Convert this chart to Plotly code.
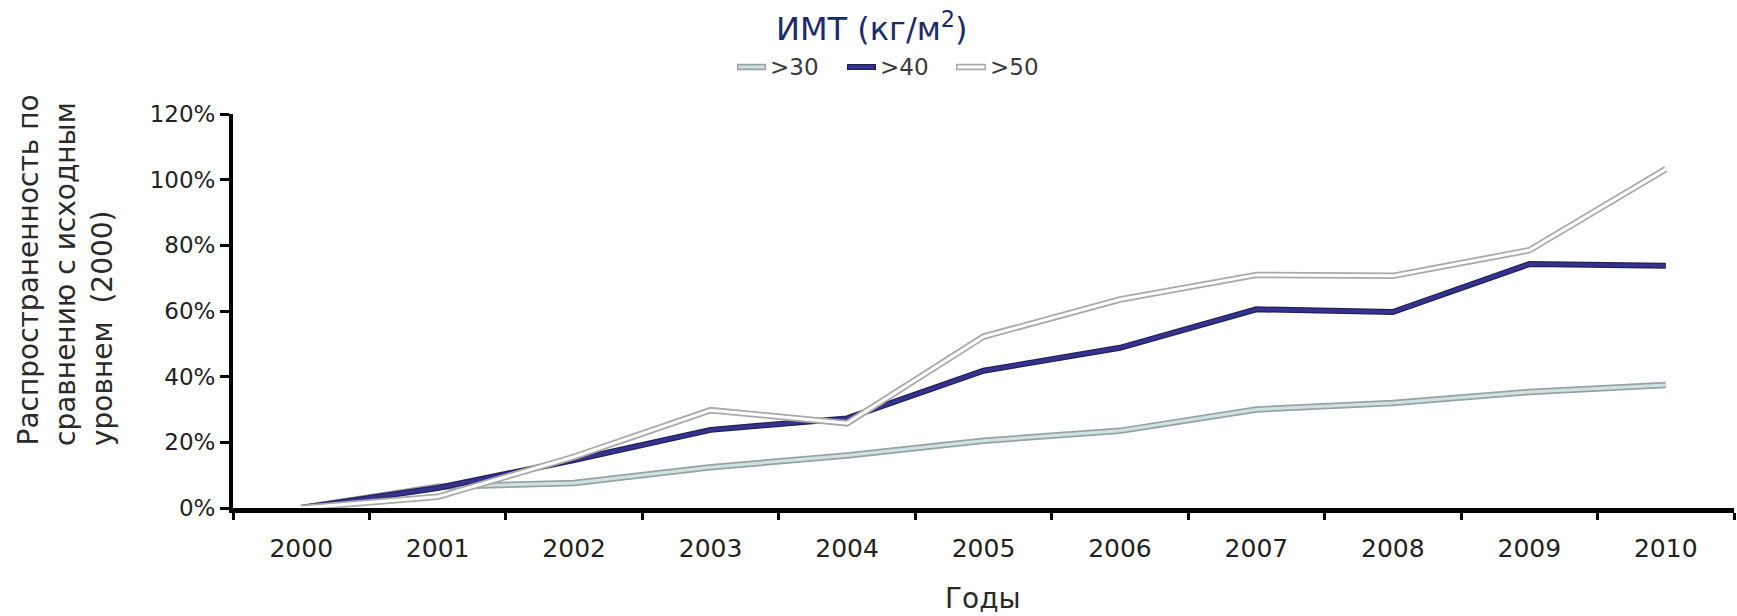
import plotly.graph_objects as go

# Prevalence growth relative to the 2000 baseline, by BMI threshold
years = ["2000", "2001", "2002", "2003", "2004", "2005",
         "2006", "2007", "2008", "2009", "2010"]
bmi_over_30 = [0.0, 0.065, 0.076, 0.124, 0.160, 0.205, 0.235, 0.300, 0.320, 0.353, 0.375]
bmi_over_40 = [0.0, 0.061, 0.146, 0.238, 0.273, 0.418, 0.488, 0.605, 0.597, 0.743, 0.738]
bmi_over_50 = [0.0, 0.034, 0.156, 0.298, 0.258, 0.522, 0.635, 0.710, 0.707, 0.785, 1.032]
series_names = [">30", ">40", ">50"]
y_ticks = [0.0, 0.2, 0.4, 0.6, 0.8, 1.0, 1.2]

# Outlined ("compound") line look: a wide outer stroke with a thinner core on top
styles = {
    ">30": dict(outer="#97a3a3", outer_w=6.5, inner="#cfe1e1", inner_w=3),
    ">40": dict(outer="#22205a", outer_w=6, inner="#36338e", inner_w=3.5),
    ">50": dict(outer="#a9a9a9", outer_w=6.5, inner="#ffffff", inner_w=3),
}
values = {">30": bmi_over_30, ">40": bmi_over_40, ">50": bmi_over_50}

W, H = 1737, 616
L, R, T, B = 233, 3, 114, 108
PW, PH = W - L - R, H - T - B


def px(xp):
    return (xp - L) / PW


def py(yp):
    return (H - B - yp) / PH


fig = go.Figure()
for name in series_names:
    st = styles[name]
    fig.add_trace(go.Scatter(x=years, y=values[name], mode="lines",
                             line=dict(color=st["outer"], width=st["outer_w"]),
                             showlegend=False, hoverinfo="skip"))
    fig.add_trace(go.Scatter(x=years, y=values[name], mode="lines", name=name,
                             line=dict(color=st["inner"], width=st["inner_w"]),
                             showlegend=False))

font_main = "DejaVu Sans"
shapes = []
annotations = []

# Legend title and entries
annotations.append(dict(text="ИМТ (кг/м<sup>2</sup>)", x=px(872), y=py(27),
                        xref="paper", yref="paper", showarrow=False,
                        xanchor="center", yanchor="middle",
                        font=dict(family=font_main, size=32, color="#1b2a6e")))
legend_pos = {">30": (737, 766), ">40": (847, 876), ">50": (956, 986)}
for name in series_names:
    st = styles[name]
    x0, x1 = legend_pos[name]
    ly = py(67)
    shapes.append(dict(type="line", xref="paper", yref="paper",
                       x0=px(x0), x1=px(x1), y0=ly, y1=ly,
                       line=dict(color=st["outer"], width=st["outer_w"])))
    shapes.append(dict(type="line", xref="paper", yref="paper",
                       x0=px(x0 + 1.5), x1=px(x1 - 1.5), y0=ly, y1=ly,
                       line=dict(color=st["inner"], width=st["inner_w"])))
    annotations.append(dict(text=name, x=px(x1 + 2), y=ly, xref="paper", yref="paper",
                            showarrow=False, xanchor="left", yanchor="middle",
                            font=dict(family=font_main, size=23, color="#3a3a3a")))

# Y axis title, three lines
ytitle_lines = [("Распространенность по", 28),
                ("сравнению с исходным", 65),
                ("уровнем  (2000)", 102)]
for text, xc in ytitle_lines:
    annotations.append(dict(text=text, x=px(xc), y=py(448), xref="paper", yref="paper",
                            showarrow=False, textangle=-90,
                            xanchor="center", yanchor="bottom",
                            font=dict(family=font_main, size=28, color="#2a2a2a")))

# X axis title
annotations.append(dict(text="Годы", x=px(983), y=py(598), xref="paper", yref="paper",
                        showarrow=False, xanchor="center", yanchor="middle",
                        font=dict(family=font_main, size=28, color="#2a2a2a")))

fig.update_layout(
    width=W, height=H,
    margin=dict(l=L, r=R, t=T, b=B, pad=0),
    paper_bgcolor="white", plot_bgcolor="white",
    showlegend=False,
    shapes=shapes,
    annotations=annotations,
    xaxis=dict(type="category", range=[-0.5, 10.5], tickson="boundaries",
               showline=True, linecolor="black", linewidth=4.5,
               ticks="outside", ticklen=7, tickwidth=3, tickcolor="black",
               showgrid=False, zeroline=False, ticklabelstandoff=14,
               tickfont=dict(family=font_main, size=25, color="#222222")),
    yaxis=dict(range=[0, 1.2], tickvals=y_ticks, tickformat=".0%",
               showline=True, linecolor="black", linewidth=4,
               ticks="outside", ticklen=9, tickwidth=3, tickcolor="black",
               showgrid=False, zeroline=False,
               tickfont=dict(family=font_main, size=23, color="#222222")),
)

fig.write_html("out.html")
